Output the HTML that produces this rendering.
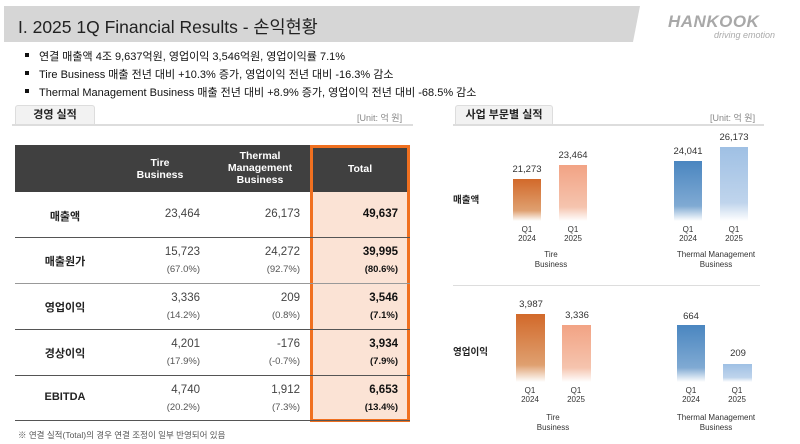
<!DOCTYPE html>
<html><head><meta charset="utf-8"><style>
*{margin:0;padding:0;box-sizing:border-box}
body{width:800px;height:444px;background:#fff;position:relative;overflow:hidden;font-family:"Liberation Sans","Noto Sans CJK KR",sans-serif;color:#222}
.a{position:absolute;white-space:nowrap}
.bul{font-size:11px;color:#111}
.bul:before{content:"";position:absolute;left:-14px;top:5px;width:4px;height:4px;background:#111}
.tab{position:absolute;background:#f2f2f2;border:1px solid #ddd;border-bottom:none;border-radius:3px 3px 0 0;font-size:11px;font-weight:bold;text-align:center;line-height:19px}
.line{position:absolute;height:2px;background:#ddd}
.unit{font-size:9px;color:#888}
.hd{color:#fff;font-weight:bold;font-size:10.5px;text-align:center;line-height:12px}
.lbl{font-weight:bold;font-size:11px;text-align:center;width:100px}
.v{font-size:11.5px;color:#444;text-align:right}
.p{font-size:9.5px;color:#555;text-align:right}
.tv{font-size:11.5px;font-weight:bold;text-align:right;color:#111}
.tp{font-size:9.5px;font-weight:bold;text-align:right;color:#111}
.hr{position:absolute;left:15px;width:395px;height:1px;background:#555}
.bo{position:absolute;background:linear-gradient(#d2692a,#dfa070 75%,rgba(255,255,255,0))}
.bo2{position:absolute;background:linear-gradient(#f2a384,#f5c4ae 75%,rgba(255,255,255,0))}
.bb{position:absolute;background:linear-gradient(#4a86c0,#80aad3 75%,rgba(255,255,255,0))}
.bb2{position:absolute;background:linear-gradient(#9fc0e4,#bfd4ec 75%,rgba(255,255,255,0))}
.cv{font-size:9.5px;color:#333;text-align:center;width:50px}
.q{font-size:8px;color:#333;text-align:center;width:40px;line-height:9px}
.bn{font-size:8px;color:#333;text-align:center;width:120px;line-height:10px}
</style></head><body>
<svg class="a" style="left:0;top:0" width="800" height="50"><polygon points="4,6 640,6 633,42 4,42" fill="#d6d6d6"/></svg>
<div class="a" style="left:18px;top:14px;font-size:17.5px;color:#222">I. 2025 1Q Financial Results - 손익현황</div>
<div class="a" style="left:668px;top:12px;font-size:17px;font-weight:bold;font-style:italic;color:#a8a8a8;letter-spacing:0.5px">HANKOOK</div>
<div class="a" style="left:714px;top:30px;font-size:9px;font-style:italic;color:#aaa">driving emotion</div>

<div class="a bul" style="left:39px;top:48px">연결 매출액 4조 9,637억원, 영업이익 3,546억원, 영업이익률 7.1%</div>
<div class="a bul" style="left:39px;top:66px">Tire Business 매출 전년 대비 +10.3% 증가, 영업이익 전년 대비 -16.3% 감소</div>
<div class="a bul" style="left:39px;top:84px">Thermal Management Business 매출 전년 대비 +8.9% 증가, 영업이익 전년 대비 -68.5% 감소</div>

<div class="tab" style="left:15px;top:105px;width:80px;height:20px">경영 실적</div>
<div class="line" style="left:12px;top:124px;width:401px"></div>
<div class="a unit" style="left:357px;top:111px">[Unit: 억 원]</div>
<div class="tab" style="left:455px;top:105px;width:98px;height:20px">사업 부문별 실적</div>
<div class="line" style="left:453px;top:124px;width:311px"></div>
<div class="a unit" style="left:710px;top:111px">[Unit: 억 원]</div>

<!-- table -->
<div class="a" style="left:15px;top:145px;width:395px;height:47px;background:#404040"></div>
<div class="a" style="left:311px;top:192px;width:98px;height:229px;background:#fbe3d5"></div>
<div class="a" style="left:310px;top:145px;width:100px;height:277px;border:3px solid #f07020"></div>
<div class="a hd" style="left:130px;top:157px;width:60px">Tire<br>Business</div>
<div class="a hd" style="left:210px;top:150px;width:100px">Thermal<br>Management<br>Business</div>
<div class="a hd" style="left:311px;top:163px;width:98px">Total</div>
<div class="hr" style="top:237px"></div>
<div class="hr" style="top:283px;background:#999"></div>
<div class="hr" style="top:329px"></div>
<div class="hr" style="top:375px"></div>
<div class="hr" style="top:420px"></div>

<div class="a lbl" style="left:15px;top:208px">매출액</div>
<div class="a v" style="left:100px;top:208px;width:100px">23,464</div>
<div class="a v" style="left:200px;top:208px;width:100px">26,173</div>
<div class="a tv" style="left:300px;top:208px;width:98px">49,637</div>

<div class="a lbl" style="left:15px;top:253px">매출원가</div>
<div class="a v" style="left:100px;top:246px;width:100px">15,723</div>
<div class="a p" style="left:100px;top:264px;width:100px">(67.0%)</div>
<div class="a v" style="left:200px;top:246px;width:100px">24,272</div>
<div class="a p" style="left:200px;top:264px;width:100px">(92.7%)</div>
<div class="a tv" style="left:300px;top:246px;width:98px">39,995</div>
<div class="a tp" style="left:300px;top:264px;width:98px">(80.6%)</div>

<div class="a lbl" style="left:15px;top:299px">영업이익</div>
<div class="a v" style="left:100px;top:292px;width:100px">3,336</div>
<div class="a p" style="left:100px;top:310px;width:100px">(14.2%)</div>
<div class="a v" style="left:200px;top:292px;width:100px">209</div>
<div class="a p" style="left:200px;top:310px;width:100px">(0.8%)</div>
<div class="a tv" style="left:300px;top:292px;width:98px">3,546</div>
<div class="a tp" style="left:300px;top:310px;width:98px">(7.1%)</div>

<div class="a lbl" style="left:15px;top:345px">경상이익</div>
<div class="a v" style="left:100px;top:338px;width:100px">4,201</div>
<div class="a p" style="left:100px;top:356px;width:100px">(17.9%)</div>
<div class="a v" style="left:200px;top:338px;width:100px">-176</div>
<div class="a p" style="left:200px;top:356px;width:100px">(-0.7%)</div>
<div class="a tv" style="left:300px;top:338px;width:98px">3,934</div>
<div class="a tp" style="left:300px;top:356px;width:98px">(7.9%)</div>

<div class="a lbl" style="left:15px;top:391px">EBITDA</div>
<div class="a v" style="left:100px;top:384px;width:100px">4,740</div>
<div class="a p" style="left:100px;top:402px;width:100px">(20.2%)</div>
<div class="a v" style="left:200px;top:384px;width:100px">1,912</div>
<div class="a p" style="left:200px;top:402px;width:100px">(7.3%)</div>
<div class="a tv" style="left:300px;top:384px;width:98px">6,653</div>
<div class="a tp" style="left:300px;top:402px;width:98px">(13.4%)</div>

<div class="a" style="left:18px;top:429px;font-size:8.5px;color:#555">※ 연결 실적(Total)의 경우 연결 조정이 일부 반영되어 있음</div>

<!-- charts: revenue -->
<div class="a" style="left:453px;top:192px;font-size:9.5px;font-weight:bold">매출액</div>
<div class="bo" style="left:513px;top:179px;width:28px;height:42px"></div>
<div class="bo2" style="left:559px;top:165px;width:28px;height:56px"></div>
<div class="bb" style="left:674px;top:161px;width:28px;height:60px"></div>
<div class="bb2" style="left:720px;top:147px;width:28px;height:74px"></div>
<div class="a cv" style="left:502px;top:164px">21,273</div>
<div class="a cv" style="left:548px;top:150px">23,464</div>
<div class="a cv" style="left:663px;top:146px">24,041</div>
<div class="a cv" style="left:709px;top:132px">26,173</div>
<div class="a q" style="left:507px;top:225px">Q1<br>2024</div>
<div class="a q" style="left:553px;top:225px">Q1<br>2025</div>
<div class="a q" style="left:668px;top:225px">Q1<br>2024</div>
<div class="a q" style="left:714px;top:225px">Q1<br>2025</div>
<div class="a bn" style="left:491px;top:250px">Tire<br>Business</div>
<div class="a bn" style="left:656px;top:250px">Thermal Management<br>Business</div>

<div class="a" style="left:453px;top:285px;width:307px;height:1px;background:#ddd"></div>

<!-- op income -->
<div class="a" style="left:453px;top:344px;font-size:9.5px;font-weight:bold">영업이익</div>
<div class="bo" style="left:516px;top:314px;width:29px;height:68px"></div>
<div class="bo2" style="left:562px;top:325px;width:29px;height:57px"></div>
<div class="bb" style="left:677px;top:325px;width:28px;height:57px"></div>
<div class="bb2" style="left:723px;top:364px;width:29px;height:18px"></div>
<div class="a cv" style="left:506px;top:299px">3,987</div>
<div class="a cv" style="left:552px;top:310px">3,336</div>
<div class="a cv" style="left:666px;top:311px">664</div>
<div class="a cv" style="left:713px;top:348px">209</div>
<div class="a q" style="left:510px;top:386px">Q1<br>2024</div>
<div class="a q" style="left:556px;top:386px">Q1<br>2025</div>
<div class="a q" style="left:671px;top:386px">Q1<br>2024</div>
<div class="a q" style="left:717px;top:386px">Q1<br>2025</div>
<div class="a bn" style="left:493px;top:413px">Tire<br>Business</div>
<div class="a bn" style="left:656px;top:413px">Thermal Management<br>Business</div>
</body></html>
